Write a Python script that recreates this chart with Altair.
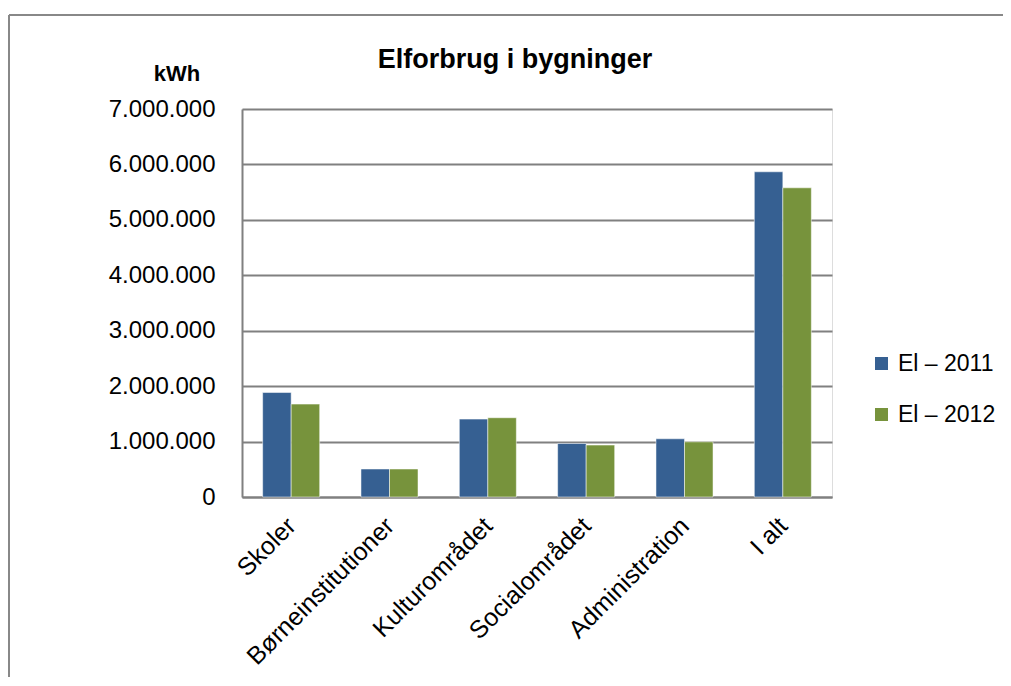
import altair as alt
import pandas as pd

categories = ["Skoler", "Børneinstitutioner", "Kulturområdet", "Socialområdet", "Administration", "I alt"]
el_2011 = [1885000, 505000, 1405000, 966000, 1050000, 5867000]
el_2012 = [1676000, 505000, 1430000, 937000, 995000, 5578000]
series_names = ["El – 2011", "El – 2012"]
colors = ["#366092", "#77933C"]

rows = []
for c, a, b in zip(categories, el_2011, el_2012):
    rows.append({"kategori": c, "serie": series_names[0], "kWh": a})
    rows.append({"kategori": c, "serie": series_names[1], "kWh": b})
df = pd.DataFrame(rows)

FONT = "Liberation Sans"
W, H = 590, 388

bars = alt.Chart(df).mark_bar(stroke="#ffffff", strokeWidth=1, strokeOpacity=0.5).encode(
    x=alt.X("kategori:N", sort=categories,
            scale=alt.Scale(paddingInner=0.42, paddingOuter=0.21),
            axis=alt.Axis(title=None, labelAngle=-45, labelAlign="right", labelBaseline="top",
                          labelFontSize=25, labelFont=FONT, labelColor="#000000",
                          labelPadding=16, labelOffset=-8, ticks=False,
                          domainColor="#808080", domainWidth=2, labelLimit=400)),
    xOffset=alt.XOffset("serie:N", sort=series_names),
    y=alt.Y("kWh:Q", scale=alt.Scale(domain=[0, 7000000]),
            axis=alt.Axis(title=None, values=[0, 1000000, 2000000, 3000000, 4000000, 5000000, 6000000, 7000000],
                          labelExpr="replace(format(datum.value, ',d'), /,/g, '.')",
                          labelFontSize=24, labelFont=FONT, labelColor="#000000", labelPadding=27,
                          ticks=False, domainColor="#808080", domainWidth=2,
                          gridColor="#808080", gridWidth=2)),
    color=alt.Color("serie:N", sort=series_names,
                    scale=alt.Scale(domain=series_names, range=colors),
                    legend=alt.Legend(title=None, orient="none", legendX=628, legendY=243,
                                      symbolType="square", symbolSize=169, symbolStrokeWidth=0,
                                      labelFontSize=23, labelFont=FONT, labelColor="#000000",
                                      rowPadding=27, labelOffset=5)),
)

title_df = pd.DataFrame({"t": ["Elforbrug i bygninger"]})
title = alt.Chart(title_df).mark_text(fontSize=27, fontWeight="bold", font=FONT, baseline="alphabetic",
                                      align="center", color="#000000").encode(
    x=alt.value(273), y=alt.value(-41), text="t:N")

unit_df = pd.DataFrame({"t": ["kWh"]})
unit = alt.Chart(unit_df).mark_text(fontSize=22, fontWeight="bold", font=FONT, baseline="alphabetic",
                                    align="center", color="#000000").encode(
    x=alt.value(-65), y=alt.value(-28), text="t:N")

border_top = alt.Chart(title_df).mark_rule(color="#888888", strokeWidth=2).encode(
    x=alt.value(-233), x2=alt.value(780), y=alt.value(-94))
border_left = alt.Chart(title_df).mark_rule(color="#888888", strokeWidth=2).encode(
    x=alt.value(-233), y=alt.value(-94), y2=alt.value(600))

chart = alt.layer(border_top, border_left, bars, title, unit).properties(
    width=W, height=H,
    autosize=alt.AutoSizeParams(type="none"),
    padding={"left": 234, "top": 101, "right": 171, "bottom": 180},
).configure_view(stroke=None).configure(background="#ffffff")

chart.save("out.html", embed_options={"renderer": "svg", "actions": False})
